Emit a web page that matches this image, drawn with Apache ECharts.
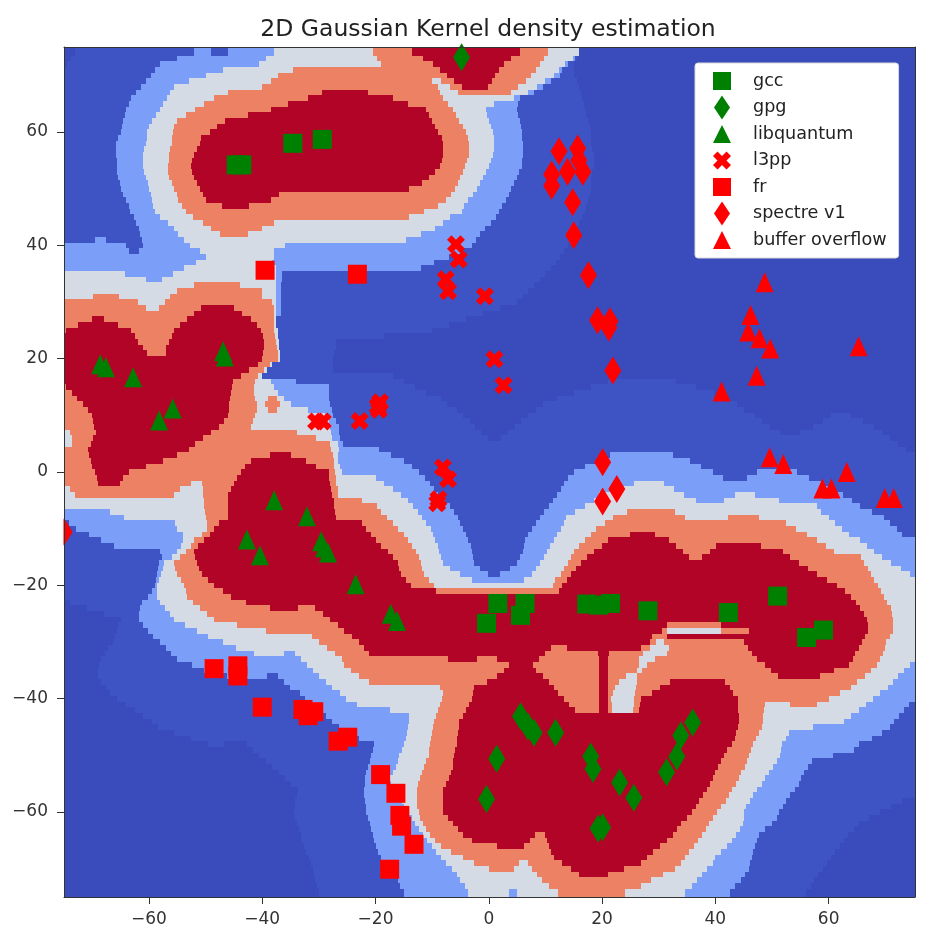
<!DOCTYPE html>
<html>
<head>
<meta charset="utf-8">
<title>2D Gaussian Kernel density estimation</title>
<script src="https://cdn.jsdelivr.net/npm/echarts@6/dist/echarts.min.js"></script>
<style>
html, body { margin: 0; padding: 0; background: #fff; }
#chart { width: 929px; height: 933px; }
</style>
</head>
<body>
<div id="chart"></div>
<script>
var titleText = '2D Gaussian Kernel density estimation';
var xTicks = [-60, -40, -20, 0, 20, 40, 60];
var yTicks = [-60, -40, -20, 0, 20, 40, 60];

// density band of every row: level, x where it ends, level, ... last level runs to the edge
// first row is y = 74, one row per unit of y, last row is y = -74
var firstRowY = 74;
var rowBands = [
    [0,-73,1,-52,2,-49,1,-46,2,-38,3,-20.5,4,-13.5,5,5.5,4,10.5,3,16,0],
    [0,-73.8,1,-55,2,-39.3,3,-19.8,4,-11.6,5,4,4,9.8,3,14.8,2,15.2,1,15.5,0],
    [0,-74.5,1,-58,2,-40.5,3,-19,4,-9.8,5,2.6,4,9.1,3,13.5,2,14,1,15,0],
    [1,-59,2,-47,3,-34.5,4,-8.6,5,1.8,4,8.3,3,12.4,2,13,1,15,0],
    [1,-59.7,2,-50,3,-37.3,4,-7.4,5,1.1,4,7.5,3,11.5,2,12.5,1,15,0],
    [1,-60.5,2,-53,3,-38.5,4,-10,3,-8.4,4,-6.2,5,0.5,4,6.6,3,10,2,11,1,15.5,0],
    [1,-61.4,2,-55.6,3,-40,4,-9,3,-6.8,4,-4.8,5,-0.2,4,5.2,3,8.5,2,9.5,1,16,0],
    [1,-62.3,2,-56.2,3,-46.1,4,-29.5,5,-21.4,4,-8.7,3,-5.5,4,3.9,3,7,2,8,1,16.3,0],
    [1,-63.2,2,-56.9,3,-48.5,4,-32,5,-17,4,-8,3,4.5,2,5.5,1,16.5,0],
    [1,-63.6,2,-57.5,3,-50.3,4,-35.5,5,-14.3,4,-7.2,3,1,2,5.2,1,16.8,0],
    [1,-64,2,-58,3,-51.8,4,-38.5,5,-11,4,-6.4,3,-0.5,2,5,1,17,0],
    [1,-64.3,2,-58.8,3,-53.5,4,-42.5,5,-10.5,4,-5.8,3,-0.3,2,5.2,1,17.2,0],
    [1,-64.5,2,-59.5,3,-55,4,-46.5,5,-10,4,-5.3,3,0,2,5.5,1,17.5,0],
    [1,-64.8,2,-60,3,-55.5,4,-48,5,-9.5,4,-4.6,3,0.4,2,5.7,1,17.8,0],
    [1,-65,2,-60.3,3,-55.8,4,-49.2,5,-9,4,-4,3,0.8,2,5.8,1,18,0],
    [1,-65.4,2,-60.4,3,-56,4,-50.8,5,-8.3,4,-3.7,3,1,2,5.9,1,18,0],
    [1,-65.8,2,-60.5,3,-56,4,-51,5,-8,4,-3.5,3,1,2,6,1,18,0],
    [1,-65.8,2,-60.8,3,-56.3,4,-51.5,5,-8,4,-3.5,3,0.9,2,6,1,18.3,0],
    [1,-65.8,2,-61,3,-56.5,4,-52,5,-8,4,-3.5,3,0.8,2,6,1,18.5,0],
    [1,-65.7,2,-61,3,-56.5,4,-52.4,5,-8.3,4,-3.8,3,0.4,2,5.9,1,18.5,0],
    [1,-65.6,2,-61,3,-56.6,4,-52.6,5,-8.7,4,-4.2,3,0,2,5.8,1,18.5,0],
    [1,-65.6,2,-60.8,3,-56.6,4,-52.4,5,-9.5,4,-4.6,3,-0.5,2,5.4,1,18.3,0],
    [1,-65.5,2,-60.5,3,-56.5,4,-52,5,-10.5,4,-5,3,-1,2,5,1,18,0],
    [1,-65.2,2,-60.2,3,-56,4,-51.5,5,-11.8,4,-5.5,3,-1.5,2,4.5,1,18,0],
    [1,-65,2,-60,3,-55.5,4,-51,5,-14,4,-6,3,-2,2,4,1,18,0],
    [1,-64.5,2,-59.7,3,-55,4,-50.5,5,-37,4,-6.7,3,-2.8,2,3.5,1,17.8,0],
    [1,-64,2,-59.5,3,-54.8,4,-50,5,-38.5,4,-7.5,3,-3.7,2,3,1,17.5,0],
    [1,-63.6,2,-59.2,3,-54.2,4,-47.1,5,-42.3,4,-9,3,-4.3,2,2.4,1,17.2,0],
    [1,-63.3,2,-59,3,-53.5,4,-11.4,3,-4.8,2,1.8,1,17,0],
    [1,-62.7,2,-58,3,-52.2,4,-14,3,-6.8,2,1.2,1,16.5,0],
    [1,-62.2,2,-56.7,3,-50.4,4,-38,3,-8,2,0.4,1,16,0],
    [1,-61.8,2,-55.6,3,-49,4,-40,3,-9.5,2,-0.6,1,15.5,0],
    [1,-61.5,2,-54.8,3,-47.5,4,-42.5,3,-12,2,-1.5,1,15,0],
    [1,-69.5,2,-67.5,1,-61.3,2,-53.8,3,-14.7,2,-2.3,1,14.5,0],
    [2,-64,1,-61,2,-52.7,3,-36,2,-3,1,14,0],
    [2,-63.5,1,-61.7,2,-51,3,-37.9,2,-5,1,13.3,0],
    [2,-50,3,-38,2,-7,1,12.5,0],
    [2,-51.7,3,-38.3,2,-9.7,1,11.8,0],
    [2,-53.8,3,-37.6,2,-12,1,11,0],
    [3,-64.3,2,-55.8,3,-37.6,2,-36.5,1,10,0],
    [3,-60.5,2,-57.7,3,-37.6,2,-36.5,1,9,0],
    [3,-52,4,-44,3,-37.6,2,-36.6,1,8,0],
    [3,-55,4,-40,3,-37.6,2,-36.7,1,7,0],
    [3,-69.9,4,-65.3,3,-56.3,4,-40,3,-37.6,2,-36.7,1,6,0],
    [4,-62,3,-57.2,4,-38.2,3,-37.6,2,-36.7,1,5,0],
    [4,-60.6,3,-58.2,4,-50.8,5,-45,4,-38,3,-37.6,2,-36.7,1,2,0],
    [4,-52,5,-43.5,4,-38,3,-37.6,2,-36.7,1,-1,0],
    [4,-70,5,-68,4,-53.2,5,-41.9,4,-38,3,-37.5,1,-4,0],
    [4,-72.5,5,-65.5,4,-54.5,5,-41,4,-38,3,-37.5,1,-7,0],
    [4,-74.6,5,-63.2,4,-55.6,5,-40.2,4,-37.9,3,-37.3,1,-10,0],
    [5,-62.5,4,-56,5,-39.9,4,-37.8,3,-37.2,1,-18.5,0],
    [5,-62,4,-56.4,5,-39.7,4,-37.6,3,-37.1,1,-27,0],
    [5,-61,4,-57,5,-39.7,4,-37.4,3,-37,1,-27,0],
    [5,-60.4,4,-57,5,-39.8,4,-37.3,3,-36.9,1,-27.3,0],
    [5,-40,4,-37.3,3,-36.8,1,-27.5,0],
    [5,-40.7,4,-38.7,3,-38.2,1,-27.5,0],
    [5,-42.3,4,-39.7,3,-39.2,1,-27.5,0],
    [5,-43.8,4,-40.8,3,-40,1,-17,0],
    [5,-45.2,4,-41.2,3,-38.5,2,-34,1,-15,0,21,1,33,0],
    [4,-74.6,5,-45.4,4,-41.4,3,-38,2,-28.3,1,-13,0,18,1,36.5,0],
    [4,-73.6,5,-45.6,4,-41.5,3,-37.2,2,-28.3,1,-11,0,15,1,39.7,0],
    [4,-72.7,5,-45.7,4,-41.3,3,-39,4,-37.4,3,-36.2,2,-28.2,1,-8.5,0,12,1,41.8,0],
    [4,-71.7,5,-45.8,4,-41,3,-39.5,4,-36.9,3,-35,2,-28,1,-7.3,0,9.5,1,43.8,0],
    [4,-70.8,5,-45.9,4,-41,3,-39,4,-37.4,3,-32,2,-27.7,1,-5.7,0,8.3,1,45.1,0],
    [4,-70,5,-46,4,-41.2,3,-29,2,-27.5,1,-4.6,0,7,1,47,0,60.5,1,64,0],
    [4,-69.8,5,-46.8,4,-41.6,3,-28.3,2,-27,1,-3.4,0,5.7,1,48.2,0,59,1,66,0],
    [4,-69.7,5,-47.7,4,-42,3,-28,2,-26.5,1,-2.5,0,4.6,1,49.7,0,57.2,1,68,0],
    [3,-73.9,4,-69.4,5,-49,4,-33.9,3,-27.8,2,-26.4,1,-1.3,0,3.4,1,51.5,0,55,1,69.5,0],
    [3,-73.6,4,-69.8,5,-50.4,4,-30.5,3,-27.6,2,-26.3,1,-0.2,0,2.2,1,70.8,0],
    [3,-73.5,4,-70.3,5,-51.8,4,-28,3,-26.7,2,-25.8,1,72.2,0],
    [4,-70.8,5,-53,4,-27.8,3,-26.5,2,-19.3,1,73.6,0],
    [4,-70.5,5,-55,4,-38.7,5,-34.9,4,-27.5,3,-26.6,2,-17.2,1,21.4,2,32.6,1],
    [4,-70.3,5,-57.5,4,-42,5,-32.3,4,-27.3,3,-26.6,2,-15,1,19.3,2,35.5,1],
    [4,-70,5,-60.5,4,-43,5,-30.5,4,-27.3,3,-26.3,2,-13.6,1,17,2,37.5,1],
    [4,-69.5,5,-63.5,4,-43.8,5,-28.3,4,-27.2,3,-26,2,-12.4,1,15,2,39.5,1,47.3,2,54.5,1],
    [4,-69.2,5,-64.5,4,-44.5,5,-28.2,4,-27,3,-20,2,-11.3,1,14,2,41.4,1,45.6,2,56.6,1],
    [4,-69,5,-65.2,4,-52.6,3,-50.6,4,-45,5,-28,4,-26.9,3,-18.5,2,-10.3,1,13.3,2,25.7,3,31,2,58.7,1],
    [3,-73.9,4,-54.5,3,-50.5,4,-45.6,5,-27.8,4,-26.7,3,-17,2,-9.6,1,12.8,2,22.7,3,32.7,2,60.8,1],
    [3,-73,4,-55.6,3,-50.5,4,-46,5,-27.6,4,-26.6,3,-15.5,2,-8.9,1,12,2,19.5,3,34.5,2,43.4,3,47,2,62.6,1],
    [3,-50.3,4,-46,5,-27.4,4,-22.4,3,-14.2,2,-7.8,1,11.4,2,18.5,3,36.6,2,41.5,3,51.3,2,64.2,1],
    [3,-50.2,4,-46,5,-27.3,4,-19.7,3,-13.4,2,-6.8,1,10.6,2,17,3,58,2,65.6,1],
    [2,-66.8,3,-50.1,4,-46,5,-27.2,4,-19,3,-12.5,2,-6.1,1,9.8,2,15.2,3,24.4,4,32.8,3,58.6,2,67.6,1],
    [2,-64.4,3,-50,4,-46,5,-27,4,-18,3,-11.8,2,-5.5,1,9,2,13.7,3,22,4,34.7,3,42.3,4,47.7,3,60,2,69.7,1],
    [1,-74.1,2,-55.4,3,-49.8,4,-47.7,5,-22.3,4,-17,3,-11,2,-5,1,8.4,2,13.2,3,20.6,4,52.4,3,61.2,2,70.8,1],
    [1,-72.8,2,-55,3,-49.7,4,-48.5,5,-21.7,4,-16,3,-10.2,2,-4.5,1,7.7,2,12.7,3,19,4,54.3,3,62.4,2,72,1],
    [1,-70.6,2,-54,3,-50.7,4,-49.3,5,-20.8,4,-15,3,-9.8,2,-4,1,7,2,12.1,3,18,4,25,5,29.4,4,56.2,3,63.6,2,73,1],
    [1,-68.5,2,-54,3,-52,4,-50.3,5,-20,4,-14.2,3,-9.5,2,-3.6,1,6.4,2,11.5,3,17,4,21,5,31.8,4,58,3,65.5,2],
    [1,-66.2,2,-54.3,3,-52.5,4,-51.3,5,-19,4,-13.5,3,-9,2,-3.2,1,6.2,2,10.8,3,16,4,20,5,33.1,4,40.2,5,48,4,59.5,3,66.7,2],
    [1,-58,2,-55,3,-53.5,4,-52,5,-17.8,4,-12.8,3,-8.8,2,-3,1,6,2,10.2,3,15,4,18.6,5,34.3,4,39,5,52,4,61,3,68,2],
    [1,-57.7,2,-55.9,3,-54.5,4,-51.8,5,-17,4,-12.4,3,-8.4,2,-2.8,1,5.5,2,9.7,3,14.5,4,17.3,5,35.4,4,37.7,5,53.1,4,65.8,3,69.5,2],
    [1,-58.3,2,-57.3,3,-55.6,4,-51.5,5,-16,4,-12,3,-8,2,-2.6,1,5,2,9.1,3,13.9,4,16.2,5,54.7,4,66.3,3,71,2],
    [1,-58.4,2,-57.5,3,-55.4,4,-51.2,5,-15.8,4,-11.8,3,-6.8,2,-1.6,1,3.7,2,8.4,3,13.2,4,15.4,5,56.4,4,67,3,72.8,2],
    [1,-58.6,2,-57.9,3,-55,4,-50.6,5,-15.5,4,-11.4,3,-5,2,-0.2,1,2,2,7.7,3,12.7,4,14.6,5,58,4,67.4,3,74.3,2],
    [1,-58.8,2,-58.3,3,-54.4,4,-49.6,5,-14.6,4,-10.5,3,-3,2,6.2,3,11.7,4,13.8,5,59.7,4,68,3],
    [1,-59,2,-58.6,3,-53.8,4,-48.5,5,-13.8,4,-9.7,3,11.4,4,13,5,61.4,4,68.7,3],
    [1,-59.5,2,-58.5,3,-53.4,4,-47,5,-9.4,4,12.4,5,62.9,4,69.2,3],
    [1,-60.2,2,-58.5,3,-53.2,4,-45.5,5,64,4,69.7,3],
    [0,-74,1,-61.2,2,-58,3,-52.3,4,-42.9,5,64.9,4,70.3,3],
    [0,-71,1,-61.6,2,-57.2,3,-51,4,-38.6,5,-33.7,4,-30.6,5,65.5,4,71,3],
    [0,-68,1,-61.7,2,-56.3,3,-49.8,4,-29.3,5,66.2,4,71.2,3],
    [0,-65,1,-61.8,2,-55.6,3,-48.5,4,-28,5,66.8,4,71.3,3],
    [0,-65.4,1,-61.1,2,-53.6,3,-44.5,4,-26.6,5,31.5,4,41,5,66.9,4,71.3,3],
    [0,-65.7,1,-60.2,2,-51.6,3,-39.4,4,-25.5,5,30.5,4,31.5,3,41,4,46,5,66.9,4,71.3,3],
    [0,-66,1,-59.2,2,-49.6,3,-31.2,4,-24.2,5,28.8,4,31.5,5,66.5,4,70.8,3],
    [0,-66.4,1,-58.1,2,-47,3,-30,4,-23,5,28.5,4,29.5,3,31,4,45,5,65.9,4,70.2,3],
    [0,-67.2,1,-57,2,-44.6,3,-28.6,4,-22.1,5,11,4,13.8,5,26.8,4,28.4,3,31.9,4,45.8,5,65.3,4,69.9,3],
    [0,-67.8,1,-56.1,2,-41.4,3,-36.2,2,-34.2,3,-27.2,4,-21.2,5,10,4,19.3,5,21.2,4,27.3,3,31.5,4,46.4,5,64.7,4,69.6,3],
    [0,-68.4,1,-55,2,-33.2,3,-26,4,-7.2,5,-2,4,1.4,5,8.9,4,19.4,5,21,4,26.5,3,29.4,4,47.4,5,64.3,4,69.1,3],
    [0,-68.9,1,-52.4,2,-32.1,3,-25.5,4,3.6,5,7.8,4,19.4,5,21,4,26.6,3,28,4,48.7,5,63.6,4,68.5,3,74.3,2],
    [0,-69,1,-50.3,2,-31,3,-24.3,4,2.6,5,8.4,4,19.4,5,21,4,26.2,3,27,4,49.9,5,61,4,67.4,3,73.3,2],
    [0,-69,1,-46.3,2,-39.2,1,-37.3,2,-29.9,3,-23,4,1.4,5,9.5,4,19.4,5,21,4,24.2,3,26.2,4,51.1,5,58.5,4,66.4,3,72.2,2],
    [0,-68.4,1,-36.1,2,-28.8,3,-21.2,4,-0.3,5,10.7,4,19.4,5,21,4,23,3,26.1,4,32,5,41.7,4,65,3,71.3,2],
    [0,-67.5,1,-35.1,2,-27.7,3,-8.7,4,-2.6,5,11.5,4,19.4,5,21,4,22.2,3,26,4,30.2,5,42.5,4,64,3,70.4,2],
    [0,-66.8,1,-33.3,2,-26.3,3,-8.1,4,-2.8,5,12.3,4,19.4,5,21,4,21.9,3,25.8,4,28.9,5,43.2,4,62,3,69.1,2],
    [0,-65.6,1,-32.5,2,-25.2,3,-8.3,4,-3,5,13.2,4,19.4,5,21,4,21.6,3,25.7,4,26.8,5,44,4,60,3,67.8,2],
    [0,-64,1,-31.2,2,-23.2,3,-8.6,4,-3.5,5,14.2,4,19.4,5,21,4,21.7,3,25.6,4,26.7,5,44,4,48.8,3,53.2,4,58,3,66.6,2,74.2,1],
    [0,-62.4,1,-30,2,-17.5,3,-9,4,-4,5,15.2,4,19.4,5,21,4,21.8,3,25.4,4,26.5,5,44,4,48.6,3,65.4,2,73.3,1],
    [0,-61,1,-28.8,2,-14,3,-9.3,4,-4.6,5,44.1,4,48.5,3,64,2,72.4,1],
    [0,-59.5,1,-27.7,2,-14,3,-9.7,4,-5.2,5,44.2,4,48.4,3,62.7,2,71.5,1],
    [0,-58.4,1,-26.5,2,-14.2,3,-9.8,4,-5.3,5,44,4,48.2,3,57.2,2,70.8,1],
    [0,-55.5,1,-25.4,2,-14.5,3,-10,4,-5.5,5,43.6,4,47.7,3,53,2,69.4,1],
    [0,-52.5,1,-23,2,-14.7,3,-10.2,4,-5.6,5,43.4,4,47.2,3,52.5,2,67.7,1],
    [0,-49.5,1,-46.7,0,-42.7,1,-20.3,2,-15,3,-10.3,4,-5.7,5,43,4,46.7,3,51.8,2,65.4,1],
    [0,-41.6,1,-20.4,2,-15.4,3,-10.5,4,-5.9,5,42,4,46.3,3,51.6,2,64.4,1],
    [0,-40.5,1,-20.8,2,-15.8,3,-10.6,4,-6.1,5,41.6,4,45.9,3,51.5,2,60.7,1],
    [0,-39.4,1,-21,2,-16,3,-11,4,-6.3,5,41,4,45.6,3,50.8,2,57,1],
    [0,-38.2,1,-21.3,2,-16.3,3,-11.4,4,-6.4,5,40.5,4,45.2,3,50.1,2,56.3,1],
    [0,-37.1,1,-21.6,2,-17,3,-11.8,4,-6.7,5,40,4,44.6,3,49.4,2,55.6,1],
    [0,-36,1,-21.8,2,-17.6,3,-12.2,4,-7.1,5,39.5,4,44.1,3,48.8,2,55.1,1],
    [0,-34.9,1,-21.9,2,-17.2,3,-12.5,4,-7.6,5,39,4,43.6,3,48.2,2,54.8,1],
    [0,-33.7,1,-22,2,-16.6,3,-12.6,4,-8.1,5,38.5,4,43,3,47.4,2,54,1],
    [0,-33.8,1,-22,2,-16,3,-12.6,4,-8.1,5,37.9,4,42.4,3,46.7,2,53.2,1],
    [0,-34.2,1,-21.8,2,-15.4,3,-12.6,4,-8.1,5,37.2,4,41.8,3,46.1,2,52.5,1,73,0],
    [0,-34.3,1,-21.7,2,-14.9,3,-12.6,4,-8.1,5,36.5,4,41,3,45.5,2,51.9,1,71,0],
    [0,-34.4,1,-21.6,2,-14.3,3,-12.4,4,-8.1,5,35.8,4,40.3,3,45,2,51.3,1,69,0],
    [0,-34.2,1,-21.4,2,-13.6,3,-12.1,4,-7.2,5,35,4,39.6,3,45,2,50.8,1,67.2,0],
    [0,-33.8,1,-21,2,-13,3,-11.6,4,-6.3,5,34,4,38.9,3,44.9,2,50,1,65.4,0],
    [0,-33.5,1,-20.8,2,-12.4,3,-11,4,-5.4,5,33.3,4,38.3,3,44.4,2,48.8,1,64.5,0],
    [0,-33.2,1,-20.5,2,-11.7,3,-10.4,4,-4.5,5,8.2,4,9.9,5,32.6,4,37.7,3,43.6,2,47.7,1,63.5,0],
    [0,-32.9,1,-20.3,2,-10.9,3,-9.5,4,-2.9,5,7.3,4,10.2,5,31.5,4,37,3,42.9,2,47.3,1,62.8,0],
    [0,-32.6,1,-20,2,-10,3,-8.5,4,1.4,5,6.2,4,10.6,5,30.2,4,36.2,3,42,2,47,1,62,0],
    [0,-32.2,1,-19.5,2,-9.3,3,-6.6,4,11,5,29,4,35.4,3,41,2,46.7,1,61.2,0],
    [0,-31.8,1,-19,2,-8.5,3,-4.6,4,11.5,5,28,4,34.7,3,40,2,46.4,1,60.5,0],
    [0,-31.4,1,-18.5,2,-7.5,3,-2.6,4,5.4,3,6.9,4,13,5,26.8,4,33.9,3,39.6,2,46.2,1,59.8,0],
    [0,-31,1,-17.6,2,-6.5,3,0,4,4.4,3,7.7,4,14.6,5,23.9,4,32.9,3,38.6,2,46,1,59,0],
    [0,-30.8,1,-17,2,-5.7,3,8.5,4,16,5,21,4,30.7,3,37.6,2,45.2,1,58.2,0],
    [0,-30.6,1,-16,2,-5,3,9.4,4,28.6,3,36.7,2,44.5,1,57.5,0],
    [0,-30.3,1,-15.7,2,-4.2,3,10.6,4,26.8,3,35.8,2,43.5,1,56.8,0],
    [0,-30,1,-15,2,-3.6,3,3.6,2,5,3,12.3,4,24,3,34.7,2,42.5,1,56,0]
];
var bandColors = ['#3a4bbc', '#3f54c4', '#7b9ff9', '#d5dbe5', '#ed8164', '#b20427'];

var gccPoints = [[-44.6,54.2],[-43.6,54.2],[-34.6,58],[-29.4,58.7],[-0.4,-26.7],[1.6,-23.2],[6.4,-23.2],[5.6,-25.3],[17.3,-23.3],[19.4,-23.5],[21.5,-23.2],[28.1,-24.5],[42.3,-24.8],[51,-21.9],[56.1,-29.2],[59.1,-27.9]];
var gpgPoints = [[-4.8,73.2],[5.6,-43.1],[6.9,-44.9],[8,-46],[11.8,-46],[1.4,-50.6],[-0.4,-57.7],[18,-50.2],[18.4,-52.4],[23.1,-54.8],[25.6,-57.5],[19.3,-62.9],[20.1,-62.7],[36,-44.2],[33.9,-46.5],[33.2,-50.2],[31.4,-53]];
var libquantumPoints = [[-68.6,19],[-67.6,18.5],[-62.8,16.7],[-46.9,21.3],[-46.6,20.4],[-55.8,11.2],[-58.2,9.1],[-37.9,-5],[-32.1,-7.8],[-42.7,-11.9],[-40.4,-14.7],[-29.6,-12.2],[-29.1,-13.3],[-28.4,-14.2],[-23.5,-19.8],[-17.3,-25],[-16.2,-26.3]];
var l3ppPoints = [[-5.8,40.2],[-5.3,37.5],[-7.6,34],[-7.2,31.9],[-0.7,31],[1,19.9],[2.6,15.3],[-19.6,11.6],[-19.2,12.3],[-19.4,11],[-22.8,9],[-8.1,0.8],[-7.2,-1.3],[-8.9,-4.8],[-9.1,-5.5],[-30.5,8.9],[-29.3,8.9]];
var frPoints = [[-39.5,35.6],[-23.2,34.9],[-48.5,-34.7],[-44.3,-34.2],[-44.3,-36],[-40,-41.5],[-32.8,-41.9],[-31.9,-43],[-30.9,-42.3],[-26.6,-47.5],[-24.9,-46.8],[-19.1,-53.4],[-16.4,-56.7],[-15.7,-60.6],[-15.4,-62.5],[-13.2,-65.7],[-17.5,-70.1]];
var spectrePoints = [[-75,-10.6],[12.4,56.6],[15.7,57.1],[13.9,53],[11.1,52.5],[11.1,50.5],[15.9,55],[16.6,53],[14.8,47.6],[15,41.8],[17.6,34.7],[19.2,26.8],[21.4,26.6],[21.2,25.5],[21.9,17.9],[20.1,1.7],[22.6,-3],[20.1,-5.2]];
var overflowPoints = [[48.7,33.5],[46.2,27.7],[45.8,24.8],[47.8,23.6],[49.7,21.8],[65.3,22.2],[47.3,17],[41.1,14.2],[49.6,2.6],[52,1.4],[63.2,0],[58.9,-2.9],[60.5,-2.9],[69.9,-4.6],[71.5,-4.6]];

var GREEN = '#008000';
var RED = '#ff0000';
// the zero length strokes keep every legend icon in the same 24x24 box
var BOX = 'path://M0 0L0 0M24 24L24 24';
var SQUARE = BOX + 'M3 3L21 3L21 21L3 21Z';
var DIAMOND = BOX + 'M12 0L20 12L12 24L4 12Z';
var TRIANGLE = BOX + 'M12 3L21 21L3 21Z';
var CROSS = BOX + 'M7.5 3L12 7.5L16.5 3L21 7.5L16.5 12L21 16.5L16.5 21L12 16.5L7.5 21L3 16.5L7.5 12L3 7.5Z';
var CROSS_MARK = 'path://M6 0L12 6L18 0L24 6L18 12L24 18L18 24L12 18L6 24L0 18L6 12L0 6Z';

var spans = [];
rowBands.forEach(function (bands, r) {
    var y = firstRowY - r;
    var top = r === 0 ? 75 : y + 0.5;
    var bottom = r === rowBands.length - 1 ? -75 : y - 0.5;
    var from = -75;
    for (var i = 0; i < bands.length; i += 2) {
        var to = i + 1 < bands.length ? bands[i + 1] : 75.25;
        spans.push([from, to, top, bottom, bands[i]]);
        from = to;
    }
});

function renderSpan(params, api) {
    var a = api.coord([api.value(0), api.value(2)]);
    var b = api.coord([api.value(1), api.value(3)]);
    var x = Math.round(a[0]), y = Math.round(a[1]);
    return {
        type: 'rect',
        shape: { x: x, y: y, width: Math.round(b[0]) - x, height: Math.round(b[1]) - y },
        style: { fill: bandColors[api.value(4)] }
    };
}

function markers(name, data, symbol, size, color) {
    return {
        name: name,
        type: 'scatter',
        data: data,
        symbol: symbol,
        symbolSize: size,
        clip: true,
        z: 5,
        itemStyle: { color: color, opacity: 1 }
    };
}

function frameAxis(type, position, showMarks, ticks) {
    var labelled = showMarks ? {
        axisTick: { show: true, length: 7, customValues: ticks, lineStyle: { color: '#333', width: 1 } },
        axisLabel: {
            show: true, margin: type === 'x' ? 14 : 16, fontSize: 17, color: '#333', fontFamily: 'DejaVu Sans', customValues: ticks,
            formatter: function (v) { return String(v).replace('-', '\u2212'); }
        }
    } : { axisTick: { show: false }, axisLabel: { show: false } };
    return Object.assign({
        type: 'value',
        position: position,
        min: -75,
        max: type === 'x' ? 75.25 : 75,
        z: 8,
        splitLine: { show: false },
        axisLine: { show: true, onZero: false, lineStyle: { color: '#333', width: 1 } }
    }, labelled);
}

var myChart = echarts.init(document.getElementById('chart'), null, { renderer: 'canvas' });
option = {
    animation: false,
    title: {
        text: titleText,
        left: 483,
        top: 13,
        textAlign: 'center',
        textStyle: { fontFamily: 'DejaVu Sans', fontSize: 23.5, fontWeight: 'normal', color: '#222' }
    },
    grid: { left: 64, top: 47, width: 851, height: 850 },
    xAxis: [frameAxis('x', 'bottom', true, xTicks), frameAxis('x', 'top', false)],
    yAxis: [frameAxis('y', 'left', true, yTicks), frameAxis('y', 'right', false)],
    legend: {
        left: 695,
        top: 63,
        orient: 'vertical',
        selectedMode: false,
        itemWidth: 24,
        itemHeight: 24,
        itemGap: 2.5,
        padding: [6, 12, 6, 15],
        backgroundColor: '#fff',
        borderColor: '#d8d8d8',
        borderWidth: 1,
        borderRadius: 3,
        z: 10,
        textStyle: { fontFamily: 'DejaVu Sans', fontSize: 17.6, color: '#222', padding: [0, 0, 0, 14] },
        data: [
            { name: 'gcc', icon: SQUARE },
            { name: 'gpg', icon: DIAMOND },
            { name: 'libquantum', icon: TRIANGLE },
            { name: 'l3pp', icon: CROSS },
            { name: 'fr', icon: SQUARE },
            { name: 'spectre v1', icon: DIAMOND },
            { name: 'buffer overflow', icon: TRIANGLE }
        ]
    },
    // the marker on the left edge is cut by the axes in the original
    graphic: {
        elements: [{
            type: 'rect',
            z: 100,
            silent: true,
            shape: { x: 50, y: 515, width: 13.5, height: 36 },
            style: { fill: '#fff' }
        }]
    },
    series: [
        {
            name: 'density',
            type: 'custom',
            data: spans,
            renderItem: renderSpan,
            clip: true,
            silent: true,
            z: 1,
            encode: { x: [0, 1], y: [2, 3] }
        },
        markers('gcc', gccPoints, 'rect', 19, GREEN),
        markers('gpg', gpgPoints, 'diamond', [17, 28], GREEN),
        markers('libquantum', libquantumPoints, 'triangle', [18, 20], GREEN),
        markers('l3pp', l3ppPoints, CROSS_MARK, 18, RED),
        markers('fr', frPoints, 'rect', 19, RED),
        markers('spectre v1', spectrePoints, 'diamond', [17, 28], RED),
        markers('buffer overflow', overflowPoints, 'triangle', [18, 20], RED)
    ]
};
myChart.setOption(option, true);
</script>
</body>
</html>
